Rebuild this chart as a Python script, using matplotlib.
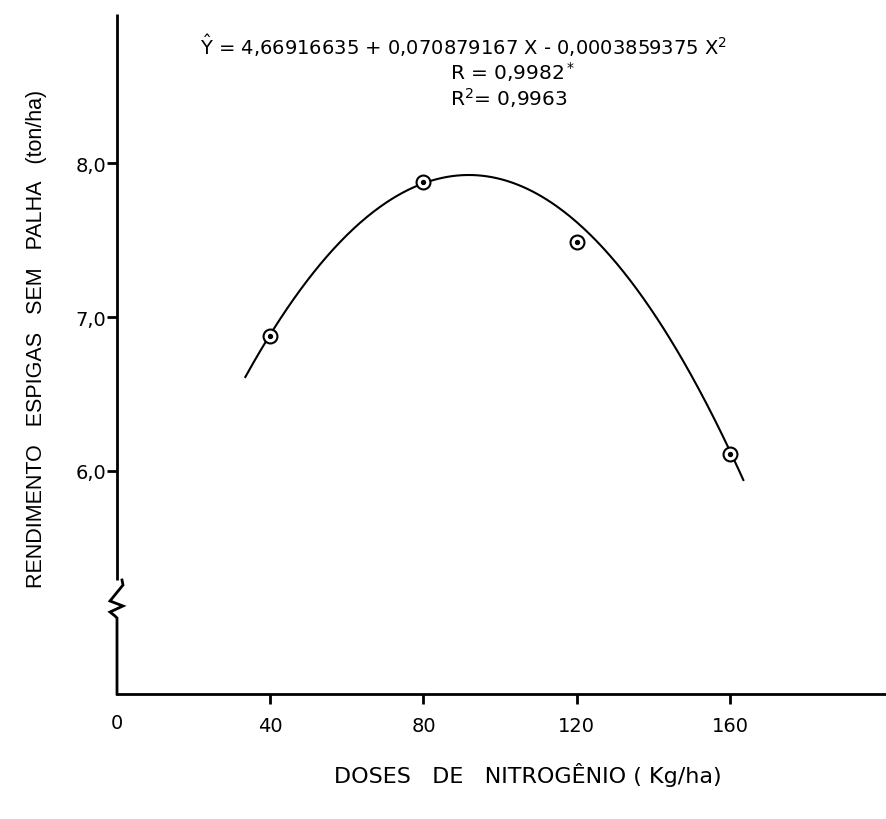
import numpy as np
import matplotlib
matplotlib.use("Agg")
import matplotlib.pyplot as plt

# Observed yields at each nitrogen dose
doses = [40, 80, 120, 160]
yields = [6.88, 7.88, 7.49, 6.11]

# Fitted quadratic regression coefficients
b0, b1, b2 = 4.66916635, 0.070879167, -0.0003859375
curve_start, curve_end = 33.5, 163.5

x_ticks = [40, 80, 120, 160]
x_ticklabels = ["40", "80", "120", "160"]
y_ticks = [6.0, 7.0, 8.0]
y_ticklabels = ["6,0", "7,0", "8,0"]

plt.rcParams["font.family"] = ["DejaVu Sans"]

W, H = 887, 820
fig = plt.figure(figsize=(W / 100, H / 100), dpi=100)
left_px, bottom_px, top_px = 117, 695, 15
ax = fig.add_axes([left_px / W, 1 - bottom_px / H, 1 - left_px / W, (bottom_px - top_px) / H])

ax.set_xlim(0, 201)
ax.set_ylim(4.55, 8.97)

xs = np.linspace(curve_start, curve_end, 300)
ax.plot(xs, b0 + b1 * xs + b2 * xs ** 2, color="black", lw=1.5, zorder=2)

ax.plot(doses, yields, linestyle="none", marker="o", ms=10, mfc="white",
        mec="black", mew=1.5, zorder=3)
ax.plot(doses, yields, linestyle="none", marker="o", ms=2.8, color="black", zorder=4)

for s in ("top", "right", "left"):
    ax.spines[s].set_visible(False)
ax.spines["bottom"].set_linewidth(2.0)

# Left axis with a break symbol near the bottom
ah = bottom_px - top_px
aw = W - left_px
def fy(py):
    return (bottom_px - py) / ah
def fx(dx):
    return dx / aw
ax.plot([0, 0], [fy(581), 1.0], transform=ax.transAxes, color="black",
        lw=2.0, clip_on=False, solid_capstyle="butt")
zz_x = [fx(5), fx(6), fx(-7), fx(6), fx(-7), fx(-2), fx(0), fx(0)]
zz_y = [fy(581), fy(586), fy(602), fy(607), fy(613), fy(617), fy(619), 0.0]
ax.plot(zz_x, zz_y, transform=ax.transAxes, color="black", lw=2.0,
        clip_on=False, solid_joinstyle="miter")

ax.set_xticks(x_ticks)
ax.set_xticklabels(x_ticklabels)
ax.set_yticks(y_ticks)
ax.set_yticklabels(y_ticklabels)
ax.tick_params(axis="both", direction="out", length=7, width=2.0, labelsize=14,
               color="black")
ax.tick_params(axis="x", pad=9)
ax.tick_params(axis="y", pad=1, left=True)
ax.text(0.0, -0.028, "0", transform=ax.transAxes, ha="center", va="top",
        fontsize=14)

fig.text(528 / W, 1 - 775 / H, "DOSES   DE   NITROGÊNIO ( Kg/ha)", ha="center",
         va="center", fontsize=16)
fig.text(37 / W, 1 - 339 / H, "RENDIMENTO   ESPIGAS   SEM   PALHA   (ton/ha)",
         rotation=90, ha="center", va="center", fontsize=15.5,
         family=["Liberation Sans"])

fig.text(200 / W, 1 - 46 / H,
         r"$\hat{\mathrm{Y}}$ = 4,66916635 + 0,070879167 X - 0,0003859375 X$^2$",
         ha="left", va="center", fontsize=14)
fig.text(450 / W, 1 - 72 / H, r"R = 0,9982$^*$", ha="left", va="center", fontsize=14.5)
fig.text(450 / W, 1 - 98 / H, r"R$^2$= 0,9963", ha="left", va="center", fontsize=14.5)

fig.savefig("out.png", dpi=100, facecolor="white")
